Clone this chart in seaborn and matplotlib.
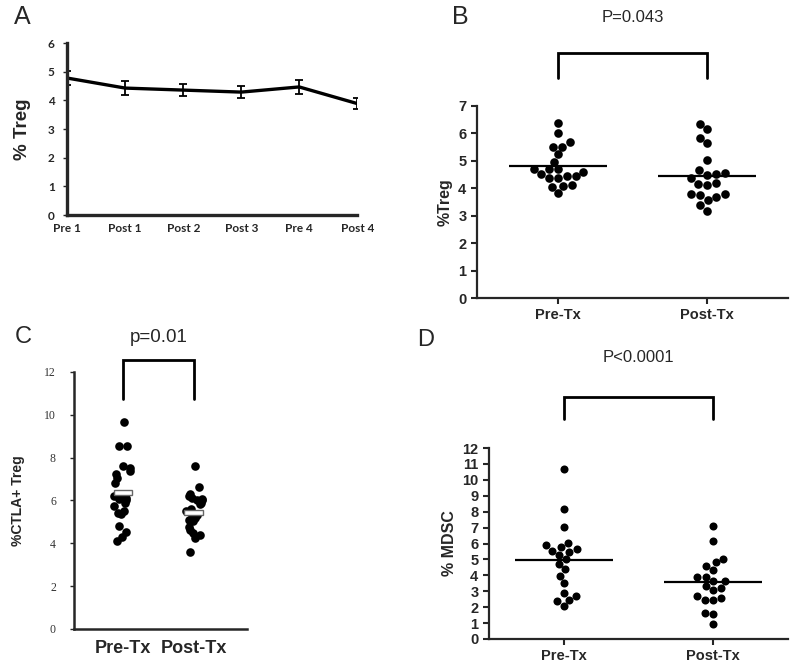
import numpy as np
import pandas as pd
import matplotlib
matplotlib.use("Agg")
import matplotlib.pyplot as plt
from matplotlib.patches import Rectangle
import seaborn as sns

sns.set_style("ticks")
plt.rcParams['font.family'] = ['Liberation Sans', 'DejaVu Sans']

# A: %Treg over visits (mean +- SEM)
visits = ["Pre 1", "Post 1", "Post 2", "Post 3", "Pre 4", "Post 4"]
treg_mean = [4.78, 4.43, 4.36, 4.29, 4.47, 3.89]
treg_sem = [0.25, 0.24, 0.21, 0.22, 0.23, 0.19]

groups = ["Pre-Tx", "Post-Tx"]

# B: %Treg
treg_pre = [6.37, 6.03, 5.67, 5.52, 5.52, 5.25, 4.97, 4.61, 4.45, 4.71,
            4.71, 4.69, 4.37, 4.36, 4.45, 4.51, 4.08, 4.06, 4.12, 3.82]
treg_post = [6.33, 6.15, 5.64, 5.83, 5.04, 4.65, 4.53, 4.49, 4.55, 4.37,
             4.19, 4.13, 4.16, 3.80, 3.76, 3.68, 3.80, 3.58, 3.40, 3.19]

# C: %CTLA+ Treg
ctla_pre = [9.65, 8.55, 8.55, 7.6, 7.5, 7.4, 7.25, 7.05, 6.8, 6.3, 6.2, 6.15,
            6.1, 6.05, 6.0, 5.9, 5.75, 5.5, 5.4, 5.35, 4.8, 4.55, 4.3, 4.1]
ctla_post = [7.6, 6.65, 6.3, 6.2, 6.1, 6.05, 6.0, 6.0, 5.9, 5.85, 5.6, 5.5,
             5.3, 5.2, 5.15, 5.1, 5.1, 5.05, 4.75, 4.6, 4.5, 4.4, 4.25, 3.6]

# D: % MDSC
mdsc_pre = [10.71, 8.14, 7.06, 5.91, 5.66, 5.49, 5.55, 5.76, 6.05, 5.28,
            5.01, 4.72, 4.38, 3.97, 3.51, 2.88, 2.67, 2.46, 2.36, 2.05]
mdsc_post = [7.12, 6.18, 5.05, 4.61, 4.36, 4.84, 3.92, 3.67, 3.22, 3.36,
             3.67, 3.92, 3.05, 2.73, 2.46, 2.44, 2.57, 1.63, 1.59, 0.96]


def long_df(pre, post):
    return pd.DataFrame({"group": [groups[0]] * len(pre) + [groups[1]] * len(post),
                         "value": pre + post})


def bracket(ax, y_top, y_leg, text, y_text, fs):
    ax.plot([0, 0, 1, 1], [y_leg, y_top, y_top, y_leg], color="black", lw=2,
            clip_on=False, solid_joinstyle="miter")
    ax.text(0.5, y_text, text, ha="center", va="center", fontsize=fs, clip_on=False)


fig = plt.figure(figsize=(8, 6.7), dpi=100)

# ---------------- A ----------------
axA = fig.add_axes([0.084, 0.679, 0.3625, 0.2567])
xpos = np.arange(len(visits))
sns.lineplot(x=xpos, y=treg_mean, color="black", lw=2.4, ax=axA)
axA.errorbar(xpos, treg_mean, yerr=treg_sem, fmt="none", ecolor="black",
             elinewidth=1.3, capsize=3, capthick=1.3)
axA.set_xlim(0, 5)
axA.set_ylim(0, 6)
axA.set_xticks(xpos)
axA.set_xticklabels(visits, fontfamily="Lato", fontweight="bold", fontsize=8.5)
axA.set_yticks(range(0, 7))
axA.set_yticklabels(range(0, 7), fontfamily="Lato", fontweight="bold", fontsize=8.5)
axA.tick_params(axis="x", length=0, pad=6)
axA.tick_params(axis="y", length=3, width=1, pad=6)
axA.set_ylabel("% Treg", fontsize=13.5, fontweight="bold", labelpad=12)
for s in ["left", "bottom"]:
    axA.spines[s].set_linewidth(2.4)
sns.despine(ax=axA)
fig.text(0.018, 0.974, "A", fontsize=18, va="center")

# ---------------- B ----------------
axB = fig.add_axes([0.596, 0.5552, 0.389, 0.2866])
dfB = long_df(treg_pre, treg_post)
sns.swarmplot(data=dfB, x="group", y="value", order=groups, color="black",
              size=6.2, ax=axB)
for i, vals in enumerate([treg_pre, treg_post]):
    axB.hlines(np.mean(vals), i - 0.33, i + 0.33, color="black", lw=1.6, zorder=3)
axB.set_xlim(-0.544, 1.544)
axB.set_ylim(0, 7)
axB.set_yticks(range(0, 8))
axB.set_xlabel("")
axB.set_ylabel("%Treg", fontsize=11.5, fontweight="bold", labelpad=4)
axB.tick_params(labelsize=10.5, width=1.5, length=4)
for lab in axB.get_xticklabels() + axB.get_yticklabels():
    lab.set_fontweight("bold")
for s in ["left", "bottom"]:
    axB.spines[s].set_linewidth(1.6)
sns.despine(ax=axB)
bracket(axB, 8.93, 8.02, "P=0.043", 10.22, 12)
fig.text(0.565, 0.975, "B", fontsize=18, va="center")

# ---------------- C ----------------
axC = fig.add_axes([0.0925, 0.0612, 0.216, 0.3836])
dfC = long_df(ctla_pre, ctla_post)
np.random.seed(3)
sns.stripplot(data=dfC, x="group", y="value", order=groups, color="black",
              size=6.2, jitter=0.13, ax=axC)
for i, vals in enumerate([ctla_pre, ctla_post]):
    m = np.mean(vals)
    axC.add_patch(Rectangle((i - 0.13, m - 0.12), 0.26, 0.24, facecolor="white",
                            edgecolor="#666666", lw=1, zorder=5))
axC.set_xlim(-0.69, 1.75)
axC.set_ylim(0, 12)
axC.set_yticks(range(0, 13, 2))
axC.set_xlabel("")
axC.set_ylabel("%CTLA+ Treg", fontsize=10, fontweight="bold", labelpad=14)
axC.tick_params(axis="x", length=0, pad=8)
axC.tick_params(axis="y", length=3, width=1, pad=10)
for lab in axC.get_xticklabels():
    lab.set_fontweight("bold")
    lab.set_fontsize(13)
for lab in axC.get_yticklabels():
    lab.set_fontfamily("Liberation Serif")
    lab.set_fontsize(8.5)
    lab.set_color("#333333")
for s in ["left", "bottom"]:
    axC.spines[s].set_linewidth(1.8)
sns.despine(ax=axC)
bracket(axC, 12.56, 10.74, "p=0.01", 13.6, 13.5)
fig.text(0.018, 0.497, "C", fontsize=17, va="center")

# ---------------- D ----------------
axD = fig.add_axes([0.611, 0.0463, 0.374, 0.285])
dfD = long_df(mdsc_pre, mdsc_post)
sns.swarmplot(data=dfD, x="group", y="value", order=groups, color="black",
              size=5.8, ax=axD)
for i, vals in enumerate([mdsc_pre, mdsc_post]):
    axD.hlines(np.mean(vals), i - 0.33, i + 0.33, color="black", lw=1.6, zorder=3)
axD.set_xlim(-0.503, 1.503)
axD.set_ylim(0, 12)
axD.set_yticks(range(0, 13))
axD.set_xlabel("")
axD.set_ylabel("% MDSC", fontsize=11.5, fontweight="bold", labelpad=4)
axD.tick_params(labelsize=10.5, width=1.5, length=4)
for lab in axD.get_xticklabels() + axD.get_yticklabels():
    lab.set_fontweight("bold")
for s in ["left", "bottom"]:
    axD.spines[s].set_linewidth(1.6)
sns.despine(ax=axD)
bracket(axD, 15.2, 13.82, "P<0.0001", 17.7, 12)
fig.text(0.522, 0.492, "D", fontsize=17, va="center")

fig.savefig("out.png", dpi=100)
